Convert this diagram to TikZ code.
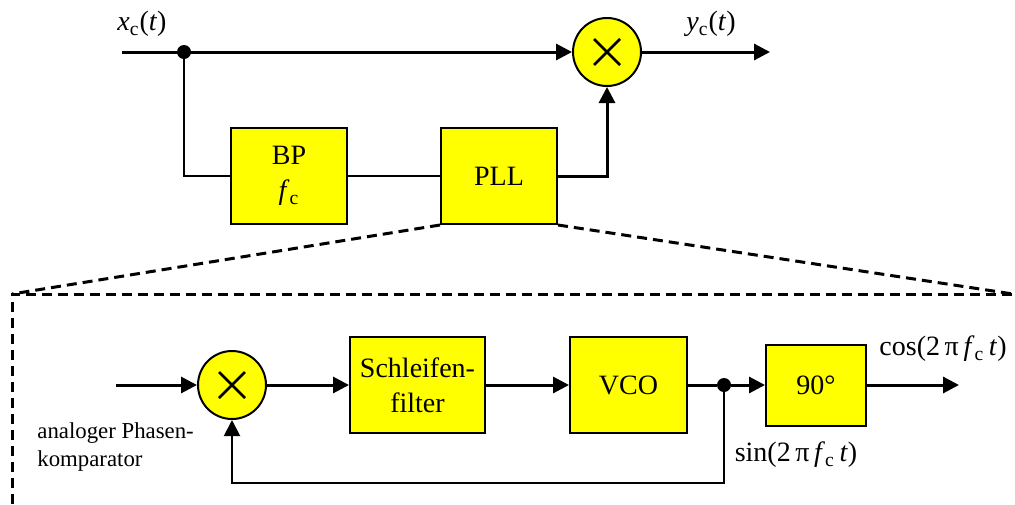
\documentclass[tikz,border=0pt]{standalone}
\usepackage{fontspec}
\setmainfont{Liberation Serif}
\usepackage{tikz}
\usetikzlibrary{positioning}
\usetikzlibrary{arrows.meta}
\definecolor{myyellow}{rgb}{1.0, 1.0, 0.0}

\tikzset{
  block/.style={draw, line width=1pt, fill=myyellow, minimum width=58pt, minimum height=48pt,
    align=center, inner sep=0pt, font=\fontsize{14}{17.5}\selectfont},
  mult/.style={draw, circle, line width=1pt, fill=myyellow, minimum size=34pt, inner sep=0pt,
    path picture={\draw[line width=1.3pt]
      ([shift={(-6.5pt,-6.5pt)}]path picture bounding box.center) -- ([shift={(6.5pt,6.5pt)}]path picture bounding box.center)
      ([shift={(-6.5pt,6.5pt)}]path picture bounding box.center) -- ([shift={(6.5pt,-6.5pt)}]path picture bounding box.center);}},
  sig/.style={line width=1.5pt, -{Triangle[length=8pt,width=8pt]}},
  wire/.style={line width=1pt},
  dot/.style={circle, fill, inner sep=0pt, minimum size=7pt},
  zoomline/.style={dash pattern=on 5pt off 3pt, line width=1.5pt},
  lbl/.style={inner sep=0pt, font=\fontsize{14}{17.5}\selectfont},
  note/.style={inner sep=0pt, align=left, font=\fontsize{11.4}{14}\selectfont}
}

\begin{document}
\begin{tikzpicture}[x=0.5pt, y=-0.5pt]
    \useasboundingbox (0,0) rectangle (1015,504);

    % upper part: x_c(t) times PLL output
    \coordinate(in) at (122,52);
    \coordinate(out) at (770,52);
    \node(m1) [mult] at (607,52) {};
    \node(bp) [block] at (289,176) {BP\\\textit{f}\textsubscript{c}};
    \node(pll) [block, right=46pt of bp] {PLL};
    \node(xc) [lbl] at (142,24) {\textit{x}\textsubscript{c}(\textit{t})};
    \node(yc) [lbl] at (711,24) {\textit{y}\textsubscript{c}(\textit{t})};

    \draw[sig] (in) -- (m1);
    \draw[sig] (m1) -- (out);
    \node(j1) [dot] at (184,52) {};
    \draw[wire] (j1) |- (bp);
    \draw[wire] (bp) -- (pll);
    \draw[sig] (pll) -| (m1);

    % zoom into the PLL
    \coordinate(dl) at (12,294);
    \coordinate(dr) at (1013,294);
    \coordinate(db) at (12,504);
    \draw[zoomline] (pll.south west) -- (dl);
    \draw[zoomline] (pll.south east) -- (dr);
    \draw[zoomline] (db) -- (dl) -- (dr);

    % lower part: inside the PLL
    \coordinate(in2) at (116,385);
    \node(m2) [mult] at (232,385) {};
    \node(sf) [block, minimum width=67.5pt, right=41pt of m2] {Schleifen-\\filter};
    \node(vco) [block, minimum width=58.5pt, right=41.5pt of sf] {VCO};
    \node(j2) [dot] at (724,385) {};
    \node(ps) [block, minimum width=50pt, minimum height=40.5pt] at (816,385) {90°};
    \coordinate(out2) at (959,385);
    \coordinate(fb) at (724,483);

    \draw[sig] (in2) -- (m2);
    \draw[sig] (m2) -- (sf);
    \draw[sig] (sf) -- (vco);
    \draw[line width=1.5pt] (vco) -- (j2);
    \draw[sig] (j2) -- (ps);
    \draw[sig] (ps) -- (out2);
    \draw[wire, -{Triangle[length=8pt,width=8pt]}] (j2) -- (fb) -| (m2);

    \node(cos) [lbl] at (943,349) {cos(2\,π\,\textit{f}\textsubscript{c}\,\textit{t})};
    \node(sin) [lbl] at (796,455) {sin(2\,π\,\textit{f}\textsubscript{c}\,\textit{t})};
    \node(apk) [note, anchor=west] at (37,447) {analoger Phasen-\\komparator};
\end{tikzpicture}
\end{document}
